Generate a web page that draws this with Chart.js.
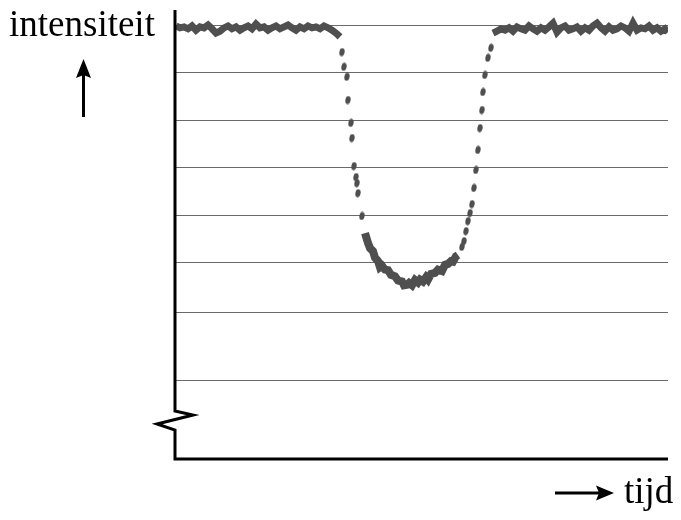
<!DOCTYPE html>
<html>
<head>
<meta charset="utf-8">
<script src="https://cdn.jsdelivr.net/npm/chart.js@4"></script>
<style>
  html, body { margin: 0; padding: 0; background: #fff; }
  #wrap { width: 681px; height: 520px; }
</style>
</head>
<body>
<div id="wrap"><canvas id="lightcurve" width="681" height="520"></canvas></div>
<script>
// time in minutes, intensity in % of the normal (out of transit) level

// before the transit
const beforeTime = [1, 5, 9, 13, 17, 21, 25, 29, 33, 37, 41, 45, 49, 53, 57, 61, 65, 69, 73, 77, 81,
  85, 89, 93, 97, 101, 105, 109, 113, 117, 121, 125, 129, 133, 137, 141, 145, 149, 153, 157, 161, 165];
const beforeFlux = [99.98, 99.94, 99.96, 99.92, 99.98, 99.89, 99.96, 99.94, 100.00, 99.92, 99.83,
  99.87, 99.94, 99.98, 99.92, 99.96, 99.89, 99.94, 99.98, 99.92, 100.02, 99.94, 99.96, 99.89, 99.94,
  99.98, 99.92, 99.96, 100.00, 99.94, 99.89, 99.96, 99.92, 99.98, 99.94, 99.96, 99.92, 99.98, 99.94,
  99.89, 99.83, 99.75];

// ingress (sparse points)
const ingressTime = [167, 169, 172, 173, 176, 177, 179, 181, 182, 183, 187];
const ingressFlux = [99.43, 99.12, 98.91, 98.42, 97.94, 97.62, 97.03, 96.80, 96.67, 96.46, 95.98];

// bottom of the dip
const dipTime = [190, 193, 195, 198, 200, 203, 205, 207, 210, 213, 216, 220, 223, 227, 229, 232, 234,
  237, 240, 243, 245, 248, 251, 253, 256, 260, 263, 267, 270, 273, 276, 278, 281, 283];
const dipFlux = [95.62, 95.41, 95.30, 95.24, 95.10, 95.03, 94.90, 94.93, 94.85, 94.84, 94.74, 94.71,
  94.62, 94.60, 94.52, 94.53, 94.57, 94.52, 94.63, 94.58, 94.64, 94.60, 94.69, 94.64, 94.76, 94.78,
  94.85, 94.82, 94.95, 94.97, 95.03, 95.02, 95.13, 95.16];

// egress (sparse points)
const egressTime = [287, 289, 291, 293, 295, 297, 299, 301, 303, 305, 307, 308, 310, 313, 316];
const egressFlux = [95.33, 95.45, 95.66, 95.87, 96.04, 96.23, 96.57, 96.95, 97.37, 97.83, 98.21,
  98.59, 98.95, 99.31, 99.52];

// after the transit
const afterTime = [318, 322, 326, 330, 334, 338, 342, 346, 350, 354, 358, 362, 366, 370, 374, 378,
  382, 386, 390, 394, 398, 402, 406, 410, 414, 418, 422, 426, 430, 434, 438, 442, 446, 450, 454, 458,
  462, 466, 470, 474, 478, 482, 486, 490, 493];
const afterFlux = [99.83, 99.87, 99.92, 99.89, 99.94, 99.87, 99.96, 99.92, 99.89, 99.98, 99.92,
  99.87, 99.94, 99.89, 99.96, 100.04, 99.85, 99.94, 99.98, 99.89, 99.92, 99.96, 99.87, 99.94, 99.89,
  99.98, 100.04, 99.94, 99.87, 99.96, 99.89, 99.92, 99.98, 99.94, 99.87, 100.04, 99.89, 99.94, 99.92,
  99.98, 99.89, 99.94, 99.87, 99.92, 99.85];

// horizontal grid lines
const gridTicks = [100, 99, 98, 97, 96, 95, 93.94, 92.51];

const timeMin = 0, timeMax = 493;
const fluxMin = 90.863, fluxMax = 100.316;
const curveColor = "#4f4f4f";

function zip(xs, ys) {
  return xs.map((x, i) => ({ x: x, y: ys[i] }));
}

// slightly elongated blob used for the sparse points
const blob = document.createElement("canvas");
blob.width = 6;
blob.height = 9;
(function () {
  const c = blob.getContext("2d");
  c.fillStyle = curveColor;
  c.beginPath();
  c.ellipse(3, 4.5, 2.6, 4, 0.2, 0, Math.PI * 2);
  c.fill();
})();

const bandStyle = { showLine: true, borderColor: curveColor, backgroundColor: curveColor,
  borderWidth: 7, pointRadius: 0, tension: 0, borderJoinStyle: "miter" };
const dotStyle = { showLine: false, pointStyle: blob, pointRadius: 4 };

// axes with the break mark, arrows and labels
const decorations = {
  id: "decorations",
  afterDraw(chart) {
    const ctx = chart.ctx;
    const a = chart.chartArea;
    ctx.save();
    ctx.strokeStyle = "#000";
    ctx.fillStyle = "#000";
    ctx.lineWidth = 3;
    ctx.lineJoin = "miter";

    // y axis with zigzag break, then x axis
    const b = a.bottom;
    ctx.beginPath();
    ctx.moveTo(a.left, a.top);
    ctx.lineTo(a.left, b - 48);
    ctx.lineTo(a.left + 18, b - 44);
    ctx.lineTo(a.left - 18, b - 35);
    ctx.lineTo(a.left, b - 29);
    ctx.lineTo(a.left, b);
    ctx.lineTo(a.right, b);
    ctx.stroke();

    // up arrow under the y label
    ctx.beginPath();
    ctx.moveTo(83.5, 117);
    ctx.lineTo(83.5, 72);
    ctx.stroke();
    ctx.beginPath();
    ctx.moveTo(83.5, 59);
    ctx.lineTo(91, 78);
    ctx.lineTo(83.5, 75);
    ctx.lineTo(76, 78);
    ctx.closePath();
    ctx.fill();

    // right arrow before the x label
    ctx.beginPath();
    ctx.moveTo(555, 493);
    ctx.lineTo(600, 493);
    ctx.stroke();
    ctx.beginPath();
    ctx.moveTo(614, 493);
    ctx.lineTo(596, 485.5);
    ctx.lineTo(599, 493);
    ctx.lineTo(596, 500.5);
    ctx.closePath();
    ctx.fill();

    ctx.font = '37px "Liberation Serif", "Times New Roman", serif';
    ctx.textBaseline = "alphabetic";
    ctx.fillText("intensiteit", 9, 36);
    ctx.fillText("tijd", 624, 503);
    ctx.restore();
  }
};

new Chart(document.getElementById("lightcurve"), {
  type: "scatter",
  data: {
    datasets: [
      Object.assign({ data: zip(beforeTime, beforeFlux) }, bandStyle),
      Object.assign({ data: zip(ingressTime, ingressFlux) }, dotStyle),
      Object.assign({ data: zip(dipTime, dipFlux) }, bandStyle, { borderWidth: 8 }),
      Object.assign({ data: zip(egressTime, egressFlux) }, dotStyle),
      Object.assign({ data: zip(afterTime, afterFlux) }, bandStyle)
    ]
  },
  options: {
    responsive: false,
    animation: false,
    layout: { padding: { left: 175, right: 13, top: 10, bottom: 61 } },
    plugins: { legend: { display: false }, tooltip: { enabled: false } },
    scales: {
      x: {
        type: "linear",
        min: timeMin,
        max: timeMax,
        ticks: { display: false },
        grid: { display: false, drawTicks: false },
        border: { display: false }
      },
      y: {
        min: fluxMin,
        max: fluxMax,
        afterBuildTicks: (scale) => {
          scale.ticks = gridTicks.map((v) => ({ value: v }));
        },
        ticks: { display: false },
        grid: { color: "#6a6a6a", lineWidth: 1, drawTicks: false },
        border: { display: false }
      }
    }
  },
  plugins: [decorations]
});
</script>
</body>
</html>
